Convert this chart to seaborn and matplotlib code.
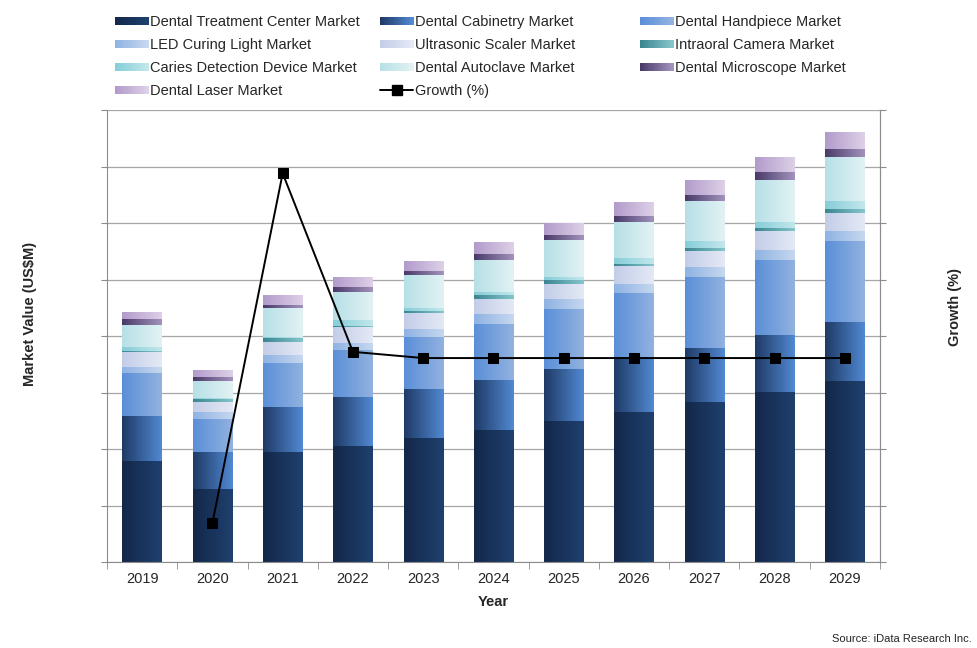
"""Dental equipment market: stacked bars with growth line."""

import numpy as np
import matplotlib
matplotlib.use("Agg")
import matplotlib.pyplot as plt
from matplotlib.colors import to_rgb
from matplotlib.lines import Line2D
from matplotlib.patches import Rectangle
from matplotlib.legend_handler import HandlerBase
import seaborn as sns

YEARS = [str(y) for y in range(2019, 2030)]

SERIES = [
    "Dental Treatment Center Market", "Dental Cabinetry Market", "Dental Handpiece Market",
    "LED Curing Light Market", "Ultrasonic Scaler Market", "Intraoral Camera Market",
    "Caries Detection Device Market", "Dental Autoclave Market", "Dental Microscope Market",
    "Dental Laser Market",
]

treatment = [1.77, 1.29, 1.93, 2.04, 2.18, 2.32, 2.48, 2.64, 2.82, 3.00, 3.19]
cabinetry = [0.81, 0.64, 0.80, 0.87, 0.88, 0.90, 0.93, 0.98, 0.97, 1.02, 1.06]
handpiece = [0.75, 0.60, 0.79, 0.84, 0.92, 0.99, 1.06, 1.12, 1.25, 1.31, 1.42]
led_curing = [0.12, 0.11, 0.13, 0.12, 0.14, 0.16, 0.17, 0.16, 0.16, 0.19, 0.19]
ultrasonic = [0.25, 0.19, 0.24, 0.28, 0.27, 0.28, 0.28, 0.32, 0.30, 0.33, 0.31]
intraoral = [0.03, 0.04, 0.06, 0.03, 0.04, 0.06, 0.06, 0.05, 0.05, 0.07, 0.07]
caries = [0.06, 0.03, 0.03, 0.09, 0.06, 0.06, 0.07, 0.09, 0.12, 0.10, 0.14]
autoclave = [0.40, 0.30, 0.50, 0.50, 0.57, 0.58, 0.64, 0.65, 0.71, 0.74, 0.79]
microscope = [0.09, 0.06, 0.07, 0.09, 0.08, 0.10, 0.10, 0.10, 0.12, 0.13, 0.14]
laser = [0.14, 0.14, 0.16, 0.16, 0.19, 0.21, 0.20, 0.26, 0.25, 0.28, 0.30]

GROWTH_YEARS = YEARS[1:]
GROWTH = [-23.1, 38.8, 7.2, 6.1, 6.1, 6.1, 6.1, 6.1, 6.1, 6.1]

# left -> right gradient colours for each series
GRADS = [
    ("#13284a", "#1f406e"),
    ("#1f3a66", "#5189d2"),
    ("#5a8fd8", "#92b2e0"),
    ("#8fb3e3", "#c6d7ef"),
    ("#c3cde8", "#e4e9f5"),
    ("#3b8691", "#86c5cc"),
    ("#86cdd8", "#c2e7eb"),
    ("#b6e0e6", "#e2f2f4"),
    ("#4a3a69", "#a293bd"),
    ("#b29bcb", "#ddd0e7"),
]

values = np.array([treatment, cabinetry, handpiece, led_curing, ultrasonic,
                   intraoral, caries, autoclave, microscope, laser])
cum = values.cumsum(axis=0)

sns.set_style("white")
plt.rcParams["font.family"] = ["Liberation Sans", "DejaVu Sans"]

GRAY = "#8c8c8c"

fig = plt.figure(figsize=(9.78, 6.48), dpi=100)
ax = fig.add_axes([0.1094, 0.1327, 0.7904, 0.6975])


def grad_img(c0, c1, n=64):
    c0, c1 = np.array(to_rgb(c0)), np.array(to_rgb(c1))
    t = np.linspace(0, 1, n)[None, :, None]
    return c0 + (c1 - c0) * t


# draw cumulative layers, tallest first, then paint each segment with a gradient
layers = []
for i in range(len(SERIES) - 1, -1, -1):
    n0 = len(ax.patches)
    sns.barplot(x=YEARS, y=cum[i], ax=ax, color=GRADS[i][0], saturation=1,
                width=0.56, errorbar=None)
    layers.append((i, ax.patches[n0:]))

for i, patches in layers:
    img = grad_img(*GRADS[i])
    for j, p in enumerate(patches):
        x0, w = p.get_x(), p.get_width()
        bottom = cum[i - 1][j] if i > 0 else 0
        ax.imshow(img, extent=[x0, x0 + w, bottom, p.get_height()], aspect="auto",
                  zorder=2, interpolation="bilinear")
        p.set_visible(False)

ax.set_xlim(-0.5, len(YEARS) - 0.5)
ax.set_ylim(0, 8)
ax.set_yticks(np.arange(0, 9))
ax.set_yticklabels([])
ax.yaxis.grid(True, color="#a6a6a6", lw=0.9)
ax.set_axisbelow(True)
ax.tick_params(axis="y", left=True, length=4, color=GRAY, direction="out")
ax.set_xticks(np.arange(len(YEARS)))
ax.set_xticklabels(YEARS)
ax.set_xticks(np.arange(-0.5, len(YEARS)), minor=True)
ax.tick_params(axis="x", which="major", length=0, labelsize=10.5, pad=7)
ax.tick_params(axis="x", which="minor", bottom=True, length=5, color=GRAY)
for s in ["left", "right", "bottom"]:
    ax.spines[s].set_color(GRAY)
ax.spines["top"].set_visible(False)

ax.set_xlabel("Year", fontsize=10.5, fontweight="bold", labelpad=7)
ax.set_ylabel("Market Value (US\\$M)", fontsize=10.5, fontweight="bold")
ax.yaxis.set_label_coords(-0.0906, 0.549)

# growth line on secondary axis
ax2 = ax.twinx()
gx = [YEARS.index(y) for y in GROWTH_YEARS]
sns.lineplot(x=gx, y=GROWTH, ax=ax2, color="black", marker="s", markersize=7,
             markeredgecolor="black", linewidth=1.4)
ax2.set_xlim(-0.5, len(YEARS) - 0.5)
ax2.set_ylim(-30, 50)
ax2.set_yticks(np.arange(-30, 51, 10))
ax2.set_yticklabels([])
ax2.tick_params(axis="y", right=True, length=4, color=GRAY, direction="out")
for s in ["left", "top", "bottom"]:
    ax2.spines[s].set_visible(False)
ax2.spines["right"].set_color(GRAY)
ax2.set_ylabel("Growth (%)", fontsize=10.5, fontweight="bold")
ax2.yaxis.set_label_coords(1.088, 0.564)


class GradHandler(HandlerBase):
    def create_artists(self, legend, orig_handle, xdescent, ydescent, width, height,
                       fontsize, trans):
        c0, c1 = np.array(to_rgb(orig_handle.grad[0])), np.array(to_rgb(orig_handle.grad[1]))
        n = 16
        h = height * 0.8
        y0 = -ydescent + (height - h) / 2
        arts = []
        for k in range(n):
            col = c0 + (c1 - c0) * k / (n - 1)
            arts.append(Rectangle((-xdescent + k * width / n, y0), width / n * 1.05, h,
                                  facecolor=col, edgecolor="none", transform=trans))
        return arts


proxies = []
for name, g in zip(SERIES, GRADS):
    r = Rectangle((0, 0), 1, 1)
    r.grad = g
    proxies.append(r)
growth_handle = Line2D([], [], color="black", marker="s", markersize=7, lw=1.4)

handles = proxies + [growth_handle]
labels = SERIES + ["Growth (%)"]
columns = [[0, 3, 6, 9], [1, 4, 7, 10], [2, 5, 8]]
col_x = [0.1176, 0.3885, 0.6544]
for cx, idx in zip(col_x, columns):
    fig.legend([handles[k] for k in idx], [labels[k] for k in idx],
               loc="upper left", bbox_to_anchor=(cx, 0.977), frameon=False,
               borderaxespad=0, borderpad=0, fontsize=10.5, handlelength=2.3,
               handletextpad=0.12, labelspacing=0.62,
               handler_map={Rectangle: GradHandler()})

fig.text(0.994, 0.006, "Source: iData Research Inc.", ha="right", va="bottom", fontsize=8)

plt.savefig("out.png", dpi=100)
plt.close()
